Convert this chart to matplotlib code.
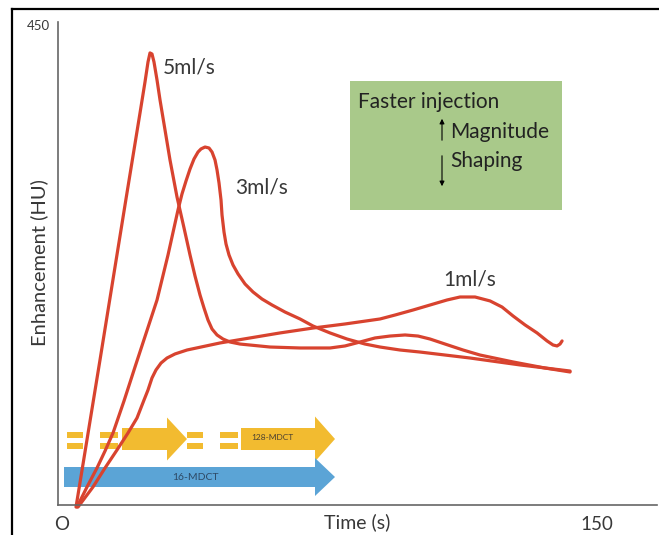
import numpy as np
import matplotlib
matplotlib.use("Agg")
import matplotlib.pyplot as plt
from matplotlib.patches import Polygon, Rectangle

plt.rcParams['font.family'] = ['Lato', 'DejaVu Sans']

# enhancement curves (time in s, enhancement in HU)
t_5 = [3.93, 10.65, 17.94, 21.87, 23.27, 24.11, 24.67, 25.23, 25.79, 26.64, 27.48,
       28.88, 30.28, 32.24, 34.21, 35.89, 37.29, 38.69, 39.81, 40.93, 42.06, 43.46,
       45.14, 47.10, 49.91, 58.32, 66.73, 75.14, 79.34, 83.55, 87.76, 91.96, 96.17,
       99.81, 103.18, 107.38, 112.43, 117.19, 126.45, 135.42, 142.43]
hu_5 = [-1.9, 135.9, 286.9, 367.5, 396.6, 415.3, 423.8, 422.8, 415.3, 398.4, 379.7,
        351.6, 323.4, 288.8, 259.7, 234.4, 214.7, 196.9, 184.7, 173.4, 165.0, 159.4,
        155.6, 152.8, 150.9, 148.1, 147.2, 147.2, 149.1, 152.8, 156.6, 158.4, 159.4,
        158.4, 155.6, 150.9, 145.3, 140.6, 134.1, 128.4, 124.7]

t_3 = [4.21, 7.01, 9.81, 12.06, 14.30, 17.38, 20.47, 26.64, 29.72, 32.52, 33.64,
       34.77, 35.89, 37.01, 38.13, 38.97, 40.09, 41.21, 42.06, 42.90, 43.46, 44.02,
       44.58, 44.86, 45.42, 45.98, 46.82, 47.94, 49.35, 51.31, 53.55, 56.07, 58.88,
       62.52, 66.73, 70.37, 75.14, 79.91, 84.95, 89.16, 94.77, 100.37, 114.39,
       128.41, 142.43]
hu_3 = [-1.9, 16.9, 34.7, 50.6, 67.5, 97.5, 129.4, 192.2, 234.4, 276.6, 291.6,
        303.8, 315.0, 324.4, 330.9, 333.8, 335.6, 334.7, 330.9, 323.4, 314.1, 301.9,
        285.9, 271.9, 255.9, 244.7, 234.4, 225.0, 216.6, 207.2, 199.7, 193.1, 187.5,
        180.9, 174.4, 167.8, 161.3, 155.6, 150.9, 148.1, 145.3, 143.4, 137.8, 131.3,
        125.6]

t_1 = [4.49, 8.69, 12.06, 15.42, 18.50, 21.03, 22.99, 24.11, 25.23, 26.35, 27.76,
       29.44, 31.68, 35.05, 44.30, 52.71, 61.12, 70.37, 79.34, 89.16, 93.36, 98.41,
       103.18, 107.94, 111.59, 115.79, 120.00, 123.36, 126.45, 129.81, 133.18,
       135.98, 137.66, 138.78, 139.62, 140.19]
hu_1 = [-1.9, 16.9, 34.7, 51.6, 67.5, 81.6, 98.4, 107.8, 119.1, 126.6, 133.1, 137.8,
        141.6, 145.3, 151.9, 156.6, 161.3, 165.9, 169.7, 174.4, 178.1, 182.8, 187.5,
        192.2, 195.0, 195.0, 191.3, 185.6, 177.2, 168.8, 161.3, 153.8, 150.0, 149.1,
        150.9, 153.8]

x_ticks = [0, 150]
x_ticklabels = ['O', '150']
y_ticks = [450]

red = '#d8432f'
yellow = '#f2bb30'
blue = '#5ba4d6'
txt = '#383838'

fig = plt.figure(figsize=(6.59, 5.35), dpi=100)

# overlay in pixel units for the frame, boxes and arrows
ov = fig.add_axes([0, 0, 1, 1], zorder=0)
ov.set_xlim(0, 659)
ov.set_ylim(535, 0)
ov.axis('off')

ov.plot([12, 12], [9, 535], color='black', lw=1.6)
ov.plot([12, 659], [9, 9], color='black', lw=1.6)

# green info box
ov.add_patch(Rectangle((350, 81), 212, 129, facecolor='#a9c98a', edgecolor='none'))
ov.text(358, 102, 'Faster injection', fontsize=15, color='#222222', va='center', ha='left')
ov.text(450, 132, 'Magnitude', fontsize=15, color='#222222', va='center', ha='left')
ov.text(450, 161, 'Shaping', fontsize=15, color='#222222', va='center', ha='left')
ov.annotate('', xy=(442, 116), xytext=(442, 143),
            arrowprops=dict(arrowstyle='-|>', color='black', lw=0.8, mutation_scale=7))
ov.annotate('', xy=(442, 189), xytext=(442, 153),
            arrowprops=dict(arrowstyle='-|>', color='black', lw=0.8, mutation_scale=7))

# scanner arrows
def arrow(x0, x1, xh, yc, bh, hh, color):
    pts = [(x0, yc - bh / 2), (xh, yc - bh / 2), (xh, yc - hh / 2), (x1, yc),
           (xh, yc + hh / 2), (xh, yc + bh / 2), (x0, yc + bh / 2)]
    ov.add_patch(Polygon(pts, closed=True, facecolor=color, edgecolor='none'))

for xa, xb in [(67, 83), (100, 118), (187, 203), (220, 238)]:
    ov.add_patch(Rectangle((xa, 431.5), xb - xa, 6, facecolor=yellow, edgecolor='none'))
    ov.add_patch(Rectangle((xa, 442.5), xb - xa, 6, facecolor=yellow, edgecolor='none'))
arrow(122, 187, 167, 439, 22, 43, yellow)
arrow(241, 335, 315, 439, 22, 45, yellow)
ov.text(272, 438, '128-MDCT', fontsize=6, color='#4a4030', ha='center', va='center')

arrow(64, 335, 315, 477, 20, 38, blue)
ov.text(195, 478, '16-MDCT', fontsize=7.5, color='#2e4a66', ha='center', va='center')

# curve labels
ov.text(163, 67, '5ml/s', fontsize=15, color=txt, va='center', ha='left')
ov.text(235, 187, '3ml/s', fontsize=15, color=txt, va='center', ha='left')
ov.text(443, 280, '1ml/s', fontsize=15, color=txt, va='center', ha='left')

# axis titles
ov.text(357, 522, 'Time (s)', fontsize=14, color=txt, ha='center', va='center')
ov.text(39, 263, 'Enhancement (HU)', fontsize=14.5, color=txt, ha='center', va='center',
        rotation=90)

# main axes
ax = fig.add_axes([58 / 659, 30 / 535, 599 / 659, 483 / 535], zorder=1)
ax.patch.set_alpha(0)
for t, h in [(t_5, hu_5), (t_3, hu_3), (t_1, hu_1)]:
    ax.plot(t, h, color=red, lw=2.3, solid_capstyle='round', solid_joinstyle='round',
            clip_on=False)
ax.set_xlim(-1.12, 166.8)
ax.set_ylim(0, 452.8)
ax.spines['top'].set_visible(False)
ax.spines['right'].set_visible(False)
for s in ['left', 'bottom']:
    ax.spines[s].set_color('#666666')
    ax.spines[s].set_linewidth(1.2)
ax.set_xticks(x_ticks)
ax.set_xticklabels(x_ticklabels, fontsize=13.5, color=txt)
ax.set_yticks(y_ticks)
ax.set_yticklabels([str(v) for v in y_ticks], fontsize=9.5, color=txt)
ax.tick_params(axis='both', length=0)
ax.tick_params(axis='x', pad=8)
ax.tick_params(axis='y', pad=6)

fig.savefig('out.png', dpi=100)
